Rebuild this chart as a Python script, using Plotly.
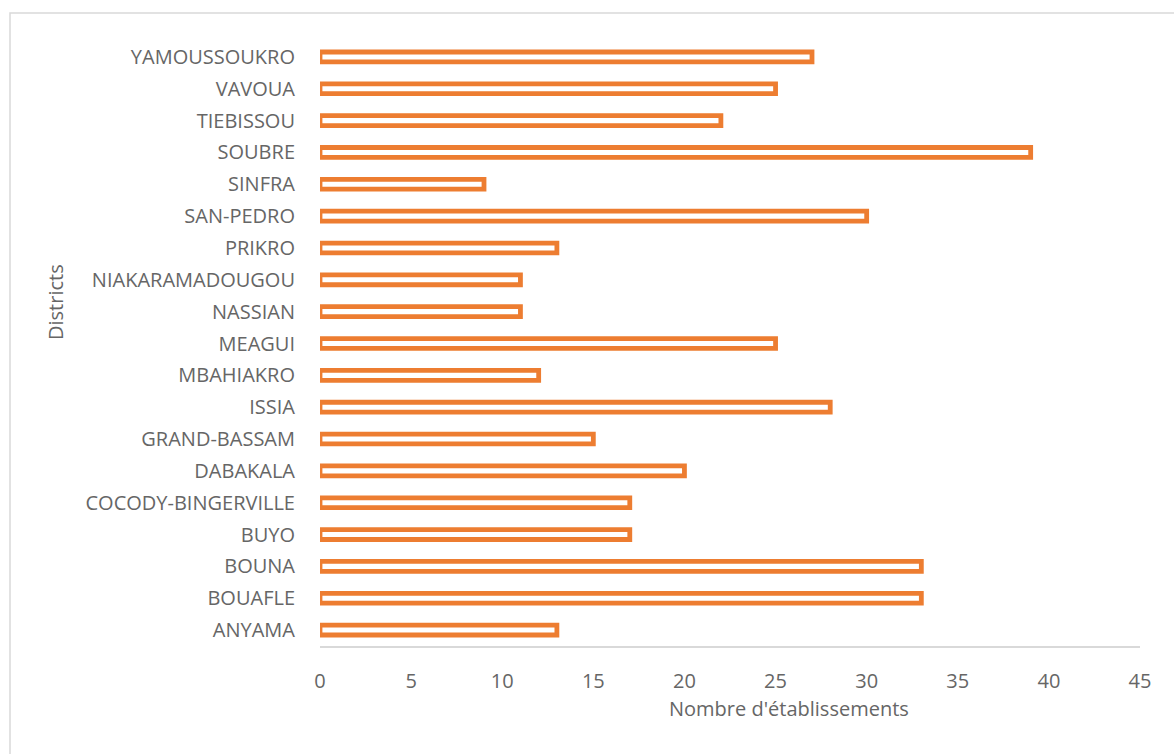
import plotly.graph_objects as go

districts = ["ANYAMA", "BOUAFLE", "BOUNA", "BUYO", "COCODY-BINGERVILLE", "DABAKALA",
             "GRAND-BASSAM", "ISSIA", "MBAHIAKRO", "MEAGUI", "NASSIAN", "NIAKARAMADOUGOU",
             "PRIKRO", "SAN-PEDRO", "SINFRA", "SOUBRE", "TIEBISSOU", "VAVOUA", "YAMOUSSOUKRO"]
counts = [13, 33, 33, 17, 17, 20, 15, 28, 12, 25, 11, 11, 13, 30, 9, 39, 22, 25, 27]
x_ticks = [0, 5, 10, 15, 20, 25, 30, 35, 40, 45]

ORANGE = "#ED7D31"
GRAY = "#666666"
FONT = "Open Sans"

fig = go.Figure(go.Bar(
    x=counts, y=districts, orientation="h",
    marker=dict(color="white", line=dict(color=ORANGE, width=4.8)),
    width=0.31,
))

L, R, T, B = 320, 34, 41, 108
W, H = 1174, 754
pw, ph = W - L - R, H - T - B

def px_x(px):
    return (px - L) / pw

def px_y(py):
    return (H - B - py) / ph

fig.update_layout(
    width=W, height=H,
    margin=dict(l=L, r=R, t=T, b=B),
    plot_bgcolor="white", paper_bgcolor="white",
    showlegend=False,
    font=dict(family=FONT, color=GRAY, size=20),
    xaxis=dict(range=[0, 45], tickvals=x_ticks, showgrid=False, zeroline=False,
               showline=True, linecolor="#D9D9D9", linewidth=1.5,
               ticks="", tickfont=dict(size=20, color=GRAY), ticklabelstandoff=16),
    yaxis=dict(showgrid=False, zeroline=False, showline=False, ticks="",
               tickfont=dict(size=20, color=GRAY), ticklabelstandoff=24,
               range=[-0.5, len(districts) - 0.5]),
    shapes=[dict(type="rect", xref="paper", yref="paper",
                 x0=px_x(10), x1=px_x(1190), y0=px_y(13), y1=px_y(780),
                 line=dict(color="#D9D9D9", width=1.5), fillcolor="rgba(0,0,0,0)",
                 layer="below")],
    annotations=[
        dict(text="Nombre d'établissements", xref="paper", yref="paper",
             x=px_x(789), y=px_y(708), xanchor="center", yanchor="middle",
             showarrow=False, font=dict(size=20, color=GRAY, family=FONT)),
        dict(text="Districts", xref="paper", yref="paper",
             x=px_x(55), y=px_y(302), xanchor="center", yanchor="middle",
             showarrow=False, textangle=-90,
             font=dict(size=20, color=GRAY, family=FONT)),
    ],
)

fig.write_html("out.html")
